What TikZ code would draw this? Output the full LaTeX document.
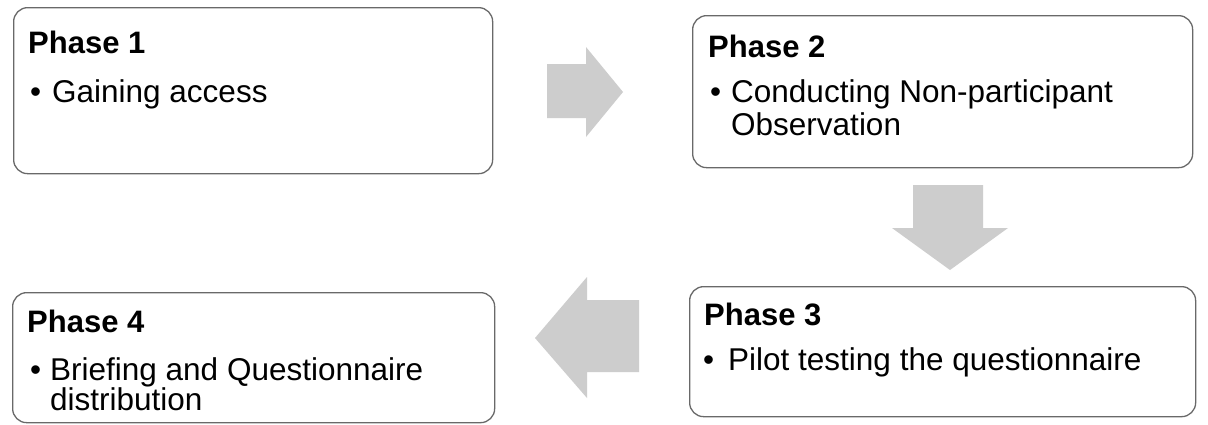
\documentclass[tikz,border=0pt]{standalone}
\usepackage{fontspec}
\setmainfont{Liberation Sans}
\definecolor{boxline}{RGB}{105,105,105}
\definecolor{arrowgray}{RGB}{205,205,205}
\begin{document}
\begin{tikzpicture}[x=1pt,y=-1pt,
  phasebox/.style={draw=boxline, line width=1.3pt, rounded corners=14pt, fill=white, anchor=north west, inner sep=0pt},
  titletext/.style={anchor=base west, inner sep=0pt, font=\fontsize{31}{36}\selectfont\bfseries},
  itemtext/.style={anchor=base west, inner sep=0pt, font=\fontsize{31.5}{36}\selectfont},
  blockarrow/.style={fill=arrowgray, draw=none}]
\useasboundingbox (0,0) rectangle (1208,424);
\fill[white] (0,0) rectangle (1208,424);

% boxes
\node[phasebox, minimum width=479pt, minimum height=166pt] (p1) at (13,7) {};
\node[phasebox, minimum width=500pt, minimum height=152pt] (p2) at (692,15) {};
\node[phasebox, minimum width=506pt, minimum height=130pt] (p3) at (689,286) {};
\node[phasebox, minimum width=482pt, minimum height=130pt] (p4) at (12,292) {};

% Phase 1
\node[titletext] (p1t) at (28,53) {Phase 1};
\node[itemtext] (p1b) at (30,102) {\textbullet};
\node[itemtext] (p1i) at (52,102) {Gaining access};

% Phase 2
\node[titletext] (p2t) at (708,57) {Phase 2};
\node[itemtext] (p2b) at (710,102) {\textbullet};
\node[itemtext] (p2i) at (731,102) {Conducting Non-participant};
\node[itemtext] (p2j) at (731,135) {Observation};

% Phase 3
\node[titletext] (p3t) at (704,325) {Phase 3};
\node[itemtext] (p3b) at (703,370) {\textbullet};
\node[itemtext] (p3i) at (728,370) {Pilot testing the questionnaire};

% Phase 4
\node[titletext] (p4t) at (27,332) {Phase 4};
\node[itemtext] (p4b) at (30,380) {\textbullet};
\node[itemtext] (p4i) at (50,380) {Briefing and Questionnaire};
\node[itemtext] (p4j) at (50,410) {distribution};

% block arrows
\path[blockarrow] (547,64) -- (586,64) -- (586,47) -- (623,92) -- (586,137) -- (586,118) -- (547,118) -- cycle;
\path[blockarrow] (913,185) -- (983,185) -- (983,228) -- (1008,228) -- (950,270) -- (892,228) -- (913,228) -- cycle;
\path[blockarrow] (639,300) -- (587,300) -- (587,277) -- (535,338) -- (587,398) -- (587,372) -- (639,372) -- cycle;
\end{tikzpicture}
\end{document}
